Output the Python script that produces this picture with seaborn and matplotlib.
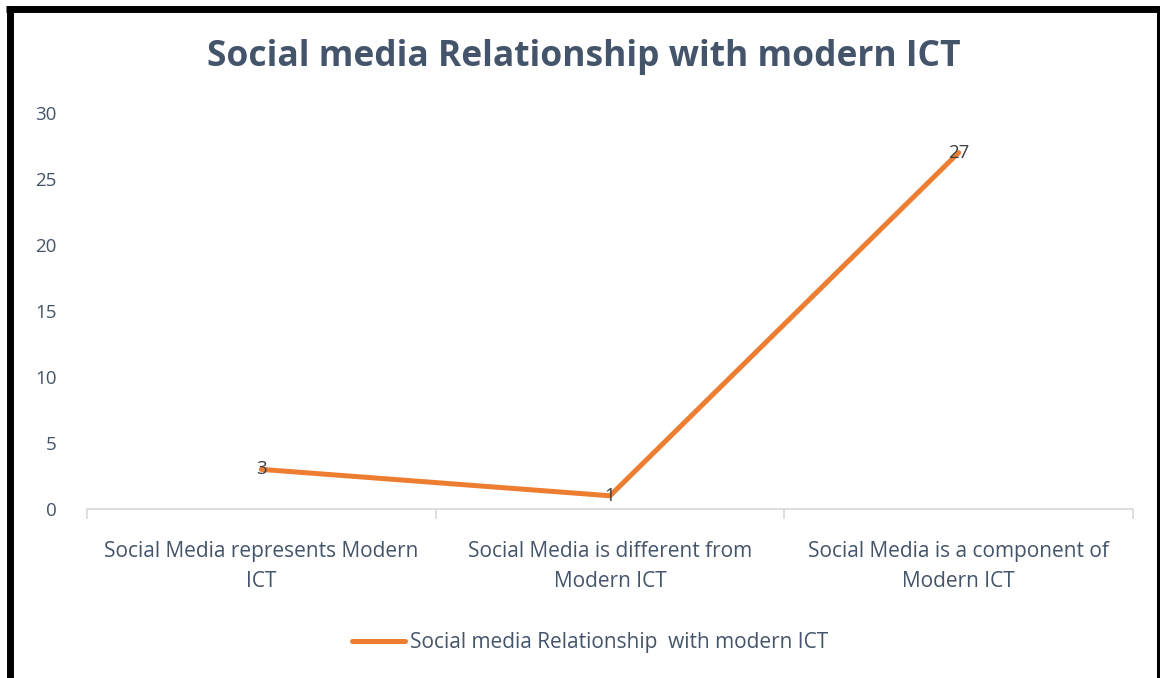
import matplotlib.pyplot as plt
import matplotlib.lines as mlines
import pandas as pd
import seaborn as sns

# Data
categories = ['Social Media represents Modern\nICT',
              'Social Media is different from\nModern ICT',
              'Social Media is a component of\nModern ICT']
counts = [3, 1, 27]
series_name = 'Social media Relationship  with modern ICT'

df = pd.DataFrame({'category': categories, 'count': counts})

sns.set_style('white')
plt.rcParams['font.family'] = ['Open Sans', 'DejaVu Sans']

text_col = '#44546A'
line_col = '#ED7D31'

fig = plt.figure(figsize=(11.6, 6.78), dpi=100)
ax = fig.add_axes([0.075, 0.2493, 0.9017, 0.584])

sns.lineplot(data=df, x='category', y='count', ax=ax, color=line_col,
             linewidth=3.6, label=series_name, sort=False)

# data labels
for i, v in enumerate(counts):
    ax.text(i, v, str(v), ha='center', va='center', fontsize=13.5, color='#404040')

ax.set_ylim(0, 30)
ax.set_xlim(-0.5, 2.5)
ax.set_yticks(range(0, 31, 5))
ax.set_xlabel('')
ax.set_ylabel('')

for s in ['top', 'right', 'left']:
    ax.spines[s].set_visible(False)
ax.spines['bottom'].set_color('#D9D9D9')
ax.spines['bottom'].set_linewidth(1.2)

ax.tick_params(axis='y', length=0, labelsize=13.5, labelcolor=text_col, pad=22)
ax.tick_params(axis='x', length=0, labelsize=15, labelcolor=text_col, pad=23)
for lbl in ax.get_xticklabels():
    lbl.set_linespacing(1.55)
# category boundary tick marks
ax.set_xticks([-0.5, 0.5, 1.5, 2.5], minor=True)
ax.tick_params(axis='x', which='minor', bottom=True, length=7,
               color='#D9D9D9', width=1.2)

fig.suptitle('Social media Relationship with modern ICT', x=0.503, y=0.916,
             va='center', fontsize=25.5, fontweight='bold', color=text_col)

leg = ax.legend(loc='center', bbox_to_anchor=(0.481, -0.337), frameon=False,
                fontsize=15, handlelength=2.55, handletextpad=0.25)
for t in leg.get_texts():
    t.set_color(text_col)

# outer black frame (left, top, right)
for xs, ys, lw in [([0.0082, 0.0082], [0, 0.9912], 5.0),
                   ([0.0052, 1.0], [0.986, 0.986], 5.0),
                   ([0.9983, 0.9983], [0, 0.99], 2.2)]:
    fig.add_artist(mlines.Line2D(xs, ys, color='black', linewidth=lw,
                                 solid_capstyle='butt',
                                 transform=fig.transFigure))

fig.savefig('out.png', dpi=100)
